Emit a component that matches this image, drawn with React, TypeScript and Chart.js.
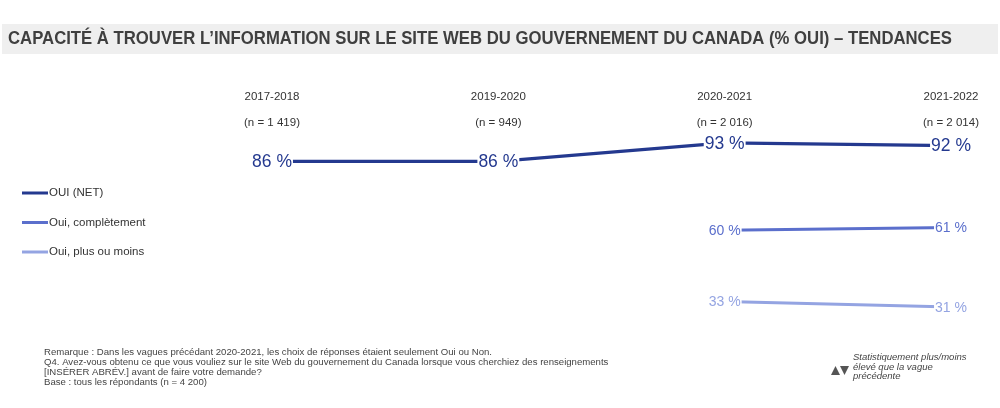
import React, { useEffect, useRef } from "react";
import { Chart, registerables } from "chart.js";

Chart.register(...registerables);

const categories = ["2017-2018", "2019-2020", "2020-2021", "2021-2022"];
const sampleSizes = ["(n = 1 419)", "(n = 949)", "(n = 2 016)", "(n = 2 014)"];
const seriesNames = ["OUI (NET)", "Oui, complètement", "Oui, plus ou moins"];
const ouiNet = [86, 86, 93, 92];
const ouiCompletement = [null, null, 60, 61];
const ouiPlusOuMoins = [null, null, 33, 31];
const seriesColors = ["#24398f", "#5b6fcc", "#94a4e2"];
const title = "CAPACITÉ À TROUVER L’INFORMATION SUR LE SITE WEB DU GOUVERNEMENT DU CANADA (% OUI) – TENDANCES";
const notes = [
  "Remarque : Dans les vagues précédant 2020-2021, les choix de réponses étaient seulement Oui ou Non.",
  "Q4. Avez-vous obtenu ce que vous vouliez sur le site Web du gouvernement du Canada lorsque vous cherchiez des renseignements",
  "[INSÉRER ABRÉV.] avant de faire votre demande?",
  "Base : tous les répondants (n = 4 200)",
];
const sigNote = ["Statistiquement plus/moins", "élevé que la vague", "précédente"];

const FONT = "'Liberation Sans', Arial, sans-serif";

const decorPlugin = {
  id: "decor",
  beforeDraw(chart: any) {
    const ctx = chart.ctx;
    ctx.save();
    // title bar
    ctx.fillStyle = "#efefef";
    ctx.fillRect(2, 24, 996, 30);
    ctx.fillStyle = "#3f3f3f";
    ctx.font = `bold 17.5px ${FONT}`;
    ctx.textBaseline = "middle";
    ctx.textAlign = "left";
    const tw = ctx.measureText(title).width;
    const sx = 944 / tw;
    ctx.save();
    ctx.translate(8, 39);
    ctx.scale(sx, 1);
    ctx.fillText(title, 0, 0);
    ctx.restore();

    // category labels
    const xs = chart.scales.x;
    ctx.fillStyle = "#333";
    ctx.font = `11.5px ${FONT}`;
    ctx.textAlign = "center";
    categories.forEach((c, i) => {
      const x = xs.getPixelForValue(i);
      ctx.fillText(c, x, 97);
      ctx.fillText(sampleSizes[i], x, 123);
    });

    // legend
    ctx.textAlign = "left";
    ctx.font = `11.5px ${FONT}`;
    chart.data.datasets.forEach((ds: any, i: number) => {
      const y = 193 + i * 29.5;
      ctx.strokeStyle = ds.borderColor;
      ctx.lineWidth = 3;
      ctx.beginPath();
      ctx.moveTo(22, y);
      ctx.lineTo(48, y);
      ctx.stroke();
      ctx.fillStyle = "#333";
      ctx.fillText(ds.label, 49, y);
    });

    // notes
    ctx.fillStyle = "#444";
    ctx.font = `9.6px ${FONT}`;
    notes.forEach((n, i) => ctx.fillText(n, 44, 352 + i * 10));

    ctx.font = `italic 9.5px ${FONT}`;
    sigNote.forEach((n, i) => ctx.fillText(n, 853, 357.5 + i * 9.5));
    ctx.fillStyle = "#555";
    ctx.beginPath();
    ctx.moveTo(831, 375);
    ctx.lineTo(840, 375);
    ctx.lineTo(835.5, 366);
    ctx.closePath();
    ctx.fill();
    ctx.beginPath();
    ctx.moveTo(840, 366);
    ctx.lineTo(849, 366);
    ctx.lineTo(844.5, 375);
    ctx.closePath();
    ctx.fill();
    ctx.restore();
  },
  afterDatasetsDraw(chart: any) {
    const ctx = chart.ctx;
    ctx.save();
    ctx.textAlign = "center";
    ctx.textBaseline = "middle";
    chart.data.datasets.forEach((ds: any, di: number) => {
      const meta = chart.getDatasetMeta(di);
      const size = di === 0 ? 17.5 : 14;
      ctx.font = `${size}px ${FONT}`;
      meta.data.forEach((pt: any, i: number) => {
        const v = ds.data[i];
        if (v === null || v === undefined) return;
        const txt = `${v} %`;
        const w = ctx.measureText(txt).width;
        ctx.fillStyle = "#fff";
        ctx.fillRect(pt.x - w / 2 - 1, pt.y - size / 2 - 1, w + 2, size + 2);
        ctx.fillStyle = ds.borderColor;
        ctx.fillText(txt, pt.x, pt.y + 1);
      });
    });
    ctx.restore();
  },
};

export default function App() {
  const ref = useRef<HTMLCanvasElement>(null);
  useEffect(() => {
    if (!ref.current) return;
    const chart = new Chart(ref.current, {
      type: "line",
      data: {
        labels: categories,
        datasets: [
          { label: seriesNames[0], data: ouiNet, borderColor: seriesColors[0], borderWidth: 3.2 },
          { label: seriesNames[1], data: ouiCompletement, borderColor: seriesColors[1], borderWidth: 3 },
          { label: seriesNames[2], data: ouiPlusOuMoins, borderColor: seriesColors[2], borderWidth: 3 },
        ] as any,
      },
      options: {
        animation: false,
        responsive: false,
        maintainAspectRatio: false,
        layout: { padding: { left: 272, right: 49, top: 135, bottom: 72 } },
        elements: { point: { radius: 0, hoverRadius: 0 }, line: { tension: 0 } },
        scales: {
          x: { display: false },
          y: { display: false, min: 20, max: 96 },
        },
        plugins: { legend: { display: false }, tooltip: { enabled: false }, title: { display: false } },
      },
      plugins: [decorPlugin],
    });
    return () => chart.destroy();
  }, []);
  return (
    <div style={{ position: "fixed", left: 0, top: 0, width: 1000, height: 408, background: "#fff" }}>
      <canvas ref={ref} width={1000} height={408} style={{ width: 1000, height: 408 }} />
    </div>
  );
}
